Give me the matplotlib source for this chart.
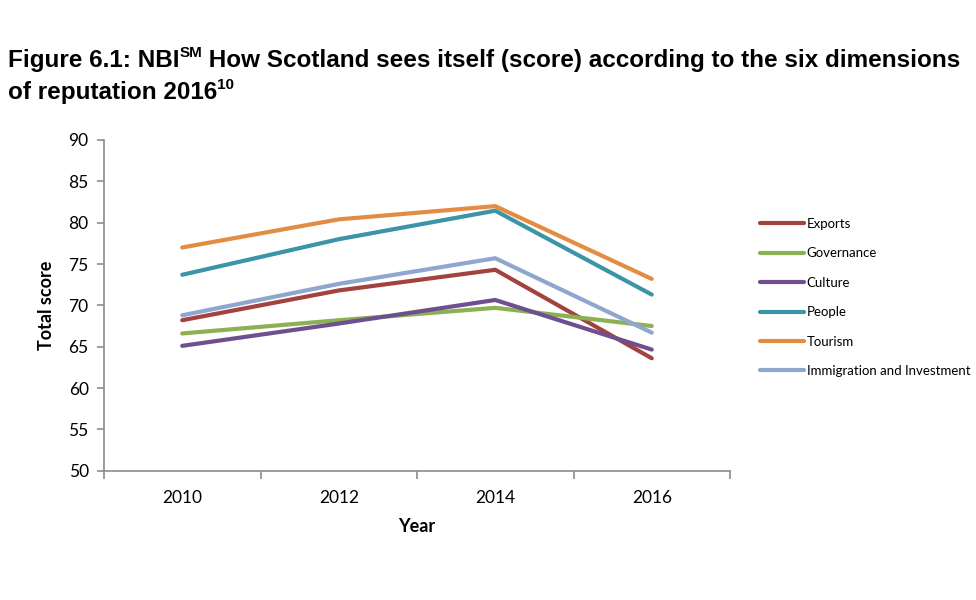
import matplotlib
matplotlib.use("Agg")
import matplotlib.pyplot as plt

years = ["2010", "2012", "2014", "2016"]
series_names = ["Exports", "Governance", "Culture", "People", "Tourism",
                "Immigration and Investment"]
exports = [68.2, 71.8, 74.3, 63.6]
governance = [66.6, 68.2, 69.7, 67.5]
culture = [65.1, 67.8, 70.65, 64.65]
people = [73.7, 78.0, 81.45, 71.3]
tourism = [77.0, 80.4, 82.0, 73.2]
immigration = [68.8, 72.6, 75.7, 66.7]
yticks = [50, 55, 60, 65, 70, 75, 80, 85, 90]

series = [exports, governance, culture, people, tourism, immigration]
colors = ["#A3423E", "#8DB053", "#6E4F8F", "#3B95A6", "#E38C43", "#8FA7CF"]

W, H = 976, 600
fig = plt.figure(figsize=(W / 100, H / 100), dpi=100)
ax = fig.add_axes([104 / W, 1 - 470.7 / H, (730 - 104) / W, (470.7 - 140) / H])

x = list(range(len(years)))
handles = []
for vals, c, name in zip(series, colors, series_names):
    ln, = ax.plot(x, vals, color=c, lw=3.0, solid_capstyle="round",
                  solid_joinstyle="miter", label=name)
    handles.append(ln)

ax.set_xlim(-0.5, len(years) - 0.5)
ax.set_ylim(50, 90)
ax.set_yticks(yticks)
ax.set_xticks(x)
ax.set_xticklabels(years)
ax.set_xticks([i - 0.5 for i in range(len(years) + 1)], minor=True)
ax.tick_params(axis="x", which="major", length=0, pad=14)
ax.tick_params(axis="x", which="minor", length=6, width=1.2, color="#8c8c8c", direction="out")
ax.tick_params(axis="y", length=5, width=1.2, color="#8c8c8c", direction="out", pad=6)
for lab in ax.get_xticklabels() + ax.get_yticklabels():
    lab.set_fontfamily("Lato")
    lab.set_fontsize(12.5)
for s in ["top", "right"]:
    ax.spines[s].set_visible(False)
for s in ["left", "bottom"]:
    ax.spines[s].set_color("#8c8c8c")
    ax.spines[s].set_linewidth(1.2)

fig.text(46 / W, 1 - 305 / H, "Total score", rotation=90, ha="center", va="center",
         fontsize=13, fontweight="bold", family="Lato")
fig.text(417 / W, 1 - 527 / H, "Year", ha="center", va="center",
         fontsize=13, fontweight="bold", family="Lato")

leg = fig.legend(handles=handles, loc="upper left", bbox_to_anchor=(760 / W, 1 - 218 / H),
                 frameon=False, prop={"family": "Lato", "size": 9.5},
                 handlelength=3.3, handletextpad=0.25, labelspacing=1.32,
                 borderaxespad=0, borderpad=0)

# Title with superscripts
fig.canvas.draw()
renderer = fig.canvas.get_renderer()
tfont = dict(family="Liberation Sans", fontweight="bold")

def put_line(pieces, x0, y0):
    xcur = x0
    for txt, sup in pieces:
        if sup:
            t = fig.text(xcur, y0 + 10 / H, txt, fontsize=11, ha="left", va="baseline", **tfont)
        else:
            t = fig.text(xcur, y0, txt, fontsize=17.5, ha="left", va="baseline", **tfont)
        bb = t.get_window_extent(renderer)
        xcur += bb.width / W

put_line([("Figure 6.1: NBI", False), ("SM", True),
          (" How Scotland sees itself (score) according to the six dimensions", False)],
         8 / W, 1 - 67 / H)
put_line([("of reputation 2016", False), ("10", True)], 8 / W, 1 - 99 / H)

fig.savefig("out.png", dpi=100)
